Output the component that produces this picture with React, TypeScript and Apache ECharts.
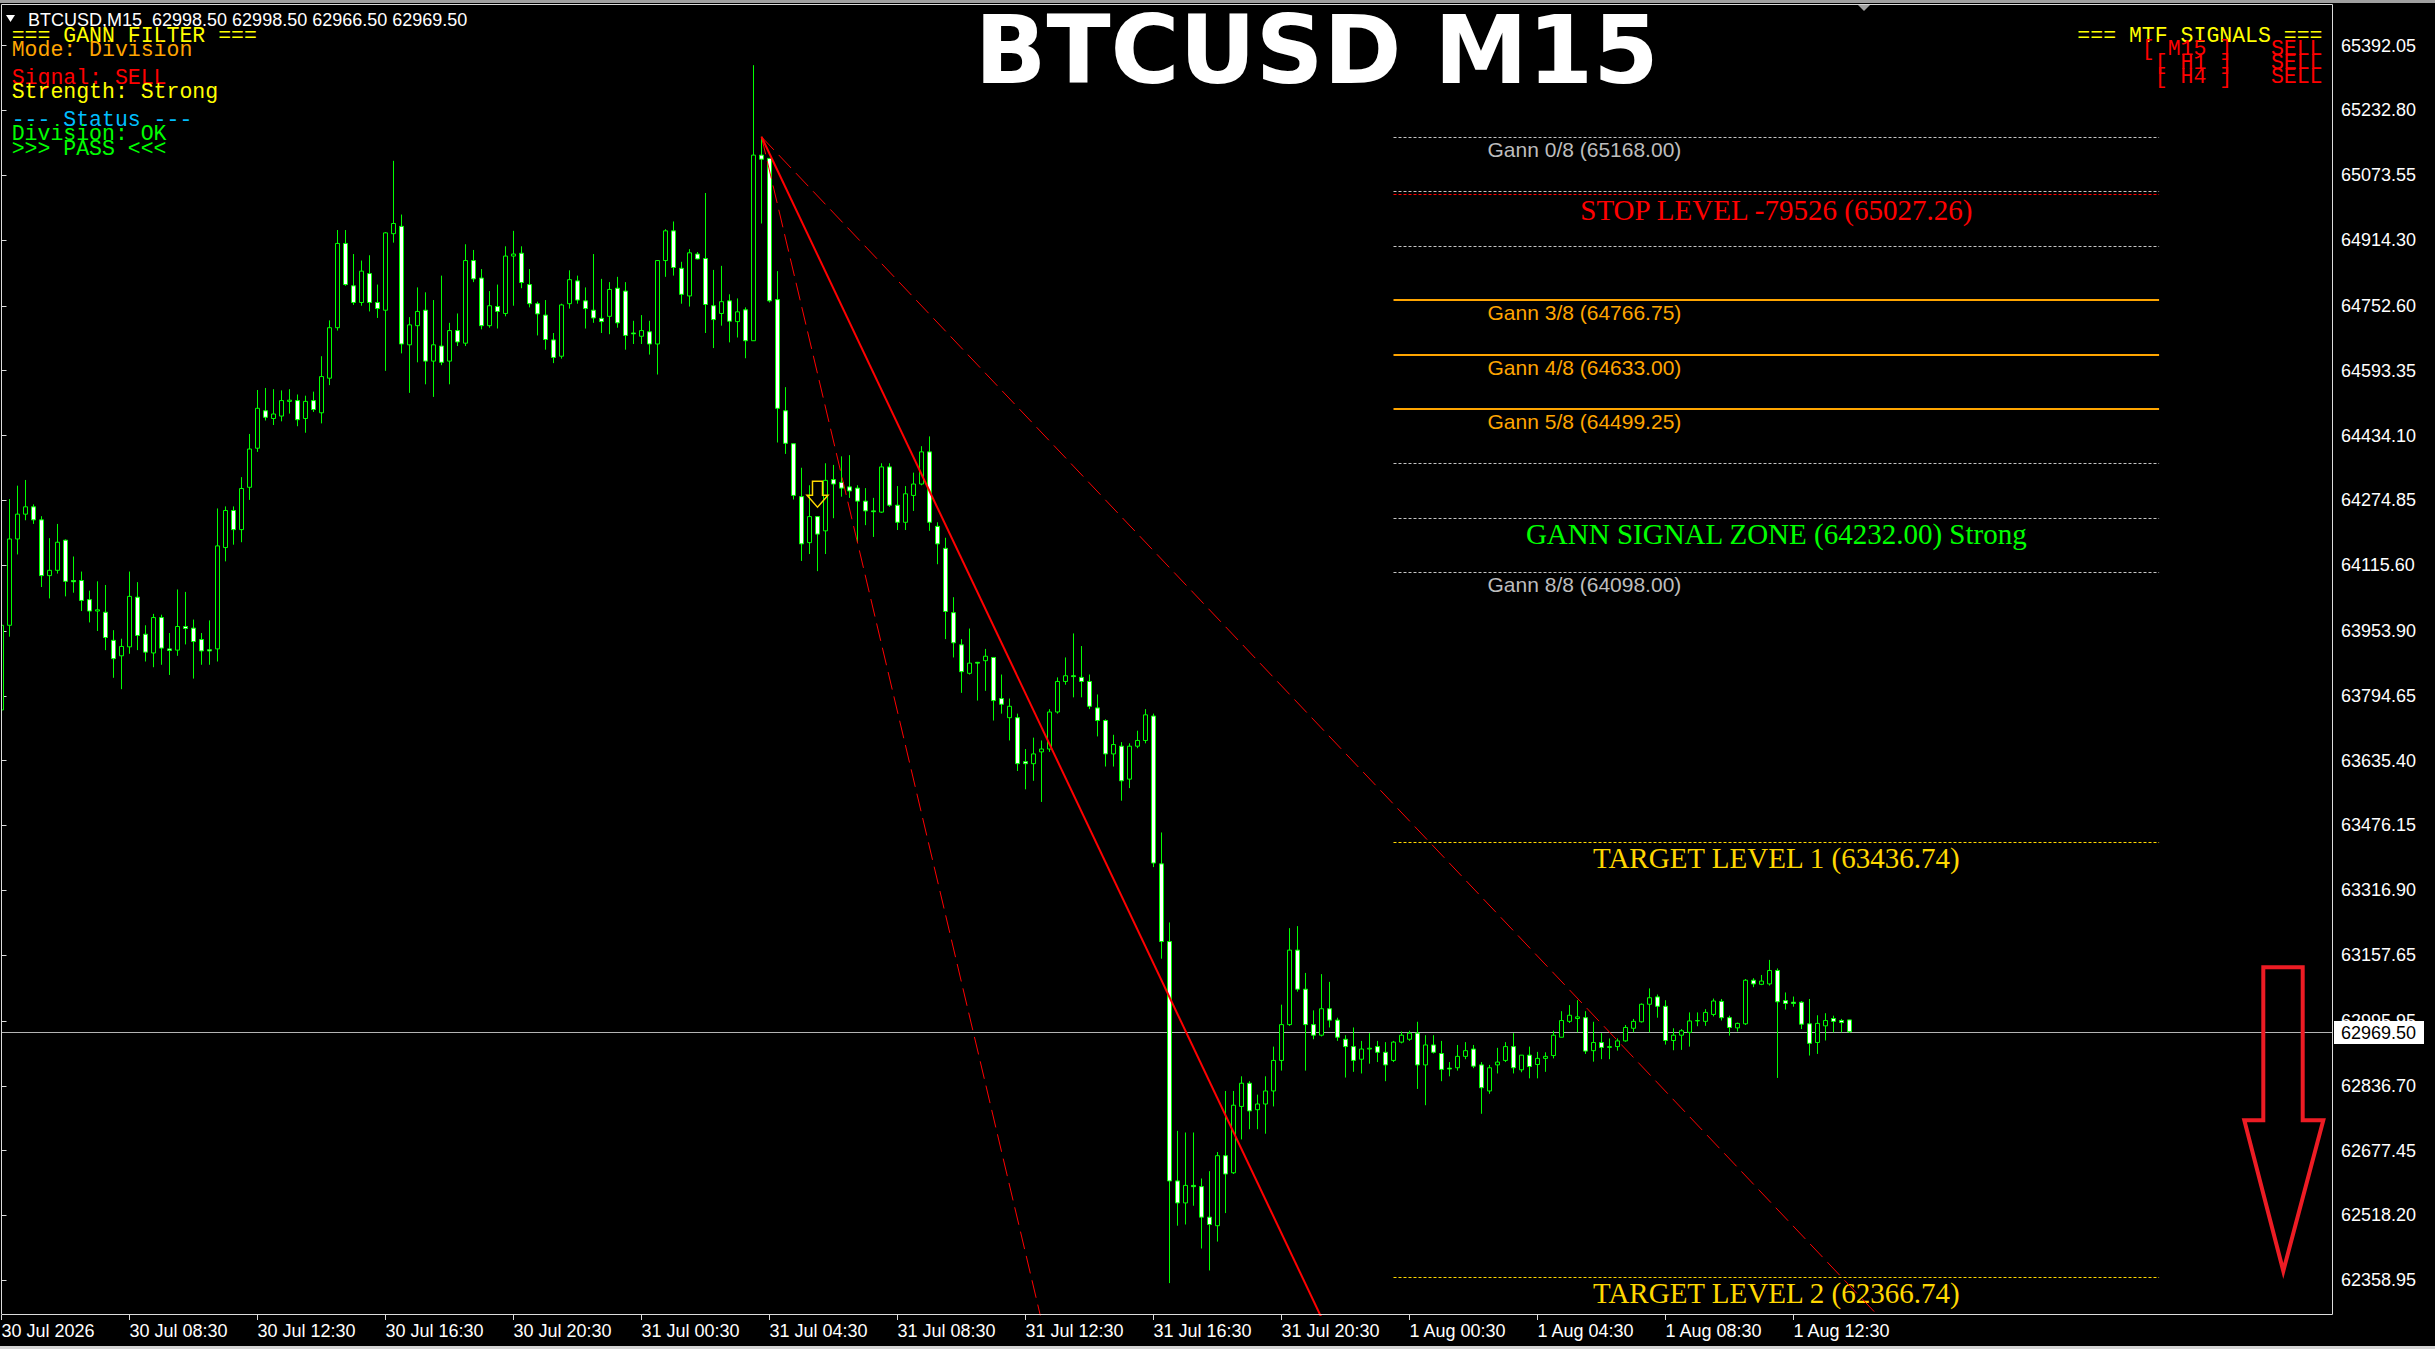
import React, { useEffect, useRef } from "react";
import * as echarts from "echarts";

const SANS = '"Liberation Sans", Arial, sans-serif';
const MONO = '"Liberation Mono", "Courier New", monospace';
const SERIF = '"Liberation Serif", "Times New Roman", serif';
const TITLE_FONT = '"DejaVu Sans", Verdana, sans-serif';

const symbolName = "BTCUSD";
const timeframe = "M15";
// open, high, low, close of the forming bar
const lastQuote = [62998.5, 62998.5, 62966.5, 62969.5];

// M15 bars, oldest first: [open, high, low, close]
const ohlc: number[][] = [
  [63760, 63985, 63730, 63968], [63968, 64278, 63940, 64180], [64180, 64311, 64142, 64241], [64241, 64325, 64226, 64259],
  [64259, 64265, 64217, 64227], [64227, 64236, 64062, 64090], [64090, 64182, 64034, 64103], [64103, 64217, 64095, 64172],
  [64177, 64179, 64039, 64076], [64078, 64137, 64048, 64075], [64078, 64100, 64003, 64029], [64031, 64053, 63975, 64003],
  [64003, 64076, 63954, 64006], [64000, 64067, 63907, 63938], [63931, 63956, 63839, 63886], [63893, 63935, 63811, 63916],
  [63915, 64100, 63898, 64039], [64037, 64074, 63907, 63943], [63946, 63968, 63879, 63902], [63900, 63996, 63865, 63987],
  [63987, 63994, 63871, 63912], [63910, 63949, 63846, 63906], [63907, 64056, 63893, 63965], [63965, 64050, 63921, 63960],
  [63961, 63982, 63837, 63928], [63933, 63949, 63871, 63905], [63908, 63980, 63871, 63905], [63910, 64255, 63879, 64163],
  [64159, 64260, 64125, 64250], [64250, 64260, 64166, 64203], [64203, 64332, 64172, 64304], [64307, 64438, 64276, 64401],
  [64403, 64546, 64394, 64501], [64495, 64551, 64471, 64479], [64476, 64548, 64460, 64487], [64482, 64545, 64469, 64520],
  [64518, 64548, 64488, 64521], [64520, 64535, 64457, 64473], [64476, 64532, 64441, 64518], [64520, 64542, 64492, 64498],
  [64490, 64629, 64464, 64579], [64575, 64717, 64558, 64699], [64699, 64939, 64692, 64906], [64906, 64939, 64802, 64805],
  [64802, 64880, 64755, 64761], [64761, 64864, 64753, 64838], [64832, 64877, 64739, 64761], [64761, 64805, 64723, 64746],
  [64742, 64934, 64593, 64932], [64930, 65109, 64908, 64955], [64948, 64977, 64636, 64659], [64657, 64725, 64539, 64706],
  [64704, 64798, 64614, 64739], [64742, 64786, 64560, 64617], [64617, 64767, 64529, 64657], [64654, 64827, 64607, 64614],
  [64617, 64711, 64560, 64692], [64692, 64734, 64654, 64664], [64661, 64904, 64654, 64864], [64864, 64890, 64811, 64819],
  [64821, 64843, 64695, 64704], [64704, 64789, 64699, 64753], [64751, 64805, 64697, 64739], [64734, 64899, 64727, 64875],
  [64875, 64937, 64753, 64880], [64882, 64899, 64796, 64810], [64805, 64843, 64749, 64758], [64758, 64763, 64680, 64733],
  [64730, 64767, 64645, 64670], [64669, 64686, 64612, 64626], [64629, 64758, 64623, 64755], [64758, 64840, 64746, 64817],
  [64814, 64827, 64758, 64767], [64765, 64798, 64697, 64746], [64742, 64880, 64711, 64723], [64722, 64819, 64686, 64714],
  [64727, 64811, 64683, 64793], [64796, 64824, 64699, 64711], [64789, 64811, 64645, 64680], [64686, 64716, 64659, 64684],
  [64678, 64730, 64659, 64692], [64689, 64716, 64633, 64659], [64659, 64864, 64584, 64864], [64864, 64941, 64824, 64937],
  [64937, 64960, 64827, 64847], [64845, 64861, 64758, 64781], [64777, 64892, 64751, 64883], [64880, 64885, 64867, 64868],
  [64869, 65030, 64686, 64756], [64753, 64841, 64649, 64719], [64734, 64851, 64704, 64763], [64765, 64781, 64663, 64715],
  [64714, 64771, 64675, 64738], [64743, 64749, 64624, 64667], [64667, 65344, 64667, 65123], [65123, 65168, 64955, 65113],
  [65115, 65115, 64761, 64765], [64768, 64838, 64417, 64501], [64495, 64553, 64389, 64415], [64414, 64414, 64277, 64287],
  [64284, 64355, 64126, 64168], [64171, 64312, 64143, 64235], [64235, 64236, 64101, 64192], [64200, 64366, 64143, 64324],
  [64326, 64362, 64231, 64315], [64319, 64383, 64284, 64305], [64308, 64386, 64281, 64298], [64305, 64312, 64171, 64273],
  [64273, 64305, 64214, 64249], [64249, 64281, 64185, 64247], [64246, 64366, 64244, 64357], [64357, 64366, 64259, 64263],
  [64263, 64310, 64202, 64221], [64221, 64310, 64202, 64291], [64287, 64343, 64249, 64315], [64315, 64408, 64312, 64394],
  [64394, 64432, 64200, 64221], [64211, 64221, 64118, 64168], [64157, 64183, 63934, 64002], [63999, 64037, 63889, 63925],
  [63920, 63934, 63802, 63854], [63850, 63960, 63847, 63875], [63877, 63878, 63783, 63875], [63881, 63910, 63807, 63892],
  [63889, 63889, 63734, 63783], [63788, 63847, 63751, 63774], [63741, 63788, 63685, 63769], [63741, 63751, 63610, 63628],
  [63633, 63664, 63565, 63628], [63628, 63692, 63586, 63652], [63657, 63685, 63534, 63664], [63664, 63762, 63657, 63755],
  [63755, 63840, 63751, 63830], [63830, 63889, 63822, 63844], [63844, 63948, 63791, 63842], [63840, 63917, 63791, 63830],
  [63830, 63847, 63762, 63769], [63765, 63798, 63695, 63734], [63734, 63737, 63621, 63652], [63652, 63699, 63621, 63675],
  [63671, 63681, 63537, 63586], [63590, 63678, 63568, 63671], [63671, 63709, 63666, 63685], [63685, 63762, 63678, 63748],
  [63745, 63751, 63374, 63384], [63382, 63459, 63149, 63191], [63191, 63238, 62352, 62603], [62603, 62726, 62493, 62549],
  [62549, 62722, 62496, 62592], [62592, 62722, 62542, 62589], [62589, 62609, 62437, 62514], [62514, 62627, 62383, 62496],
  [62493, 62674, 62454, 62665], [62665, 62824, 62524, 62620], [62623, 62824, 62620, 62789], [62786, 62860, 62705, 62843],
  [62843, 62848, 62730, 62775], [62778, 62815, 62730, 62792], [62792, 62860, 62719, 62824], [62824, 62933, 62786, 62899],
  [62899, 63036, 62874, 62987], [62987, 63224, 62984, 63170], [63170, 63229, 63068, 63074], [63074, 63114, 62874, 62987],
  [62987, 63022, 62951, 62961], [62961, 63111, 62958, 63026], [63026, 63092, 62980, 62998], [62998, 63004, 62947, 62956],
  [62951, 62961, 62857, 62933], [62933, 62980, 62871, 62899], [62902, 62947, 62867, 62927], [62927, 62966, 62891, 62929],
  [62933, 62947, 62895, 62919], [62919, 62944, 62848, 62888], [62899, 62947, 62895, 62944], [62944, 62970, 62941, 62961],
  [62951, 62972, 62947, 62966], [62966, 62994, 62829, 62888], [62888, 62961, 62789, 62937], [62937, 62961, 62916, 62919],
  [62916, 62947, 62848, 62877], [62880, 62895, 62860, 62878], [62881, 62937, 62874, 62909], [62909, 62944, 62902, 62923],
  [62927, 62937, 62880, 62885], [62888, 62895, 62768, 62832], [62824, 62888, 62817, 62881], [62888, 62930, 62867, 62895],
  [62899, 62944, 62895, 62933], [62933, 62966, 62867, 62881], [62876, 62912, 62870, 62912], [62912, 62933, 62855, 62884],
  [62889, 62920, 62855, 62904], [62904, 62919, 62871, 62909], [62911, 62972, 62904, 62961], [62956, 63020, 62956, 62997],
  [62995, 63035, 62991, 63010], [63002, 63047, 62968, 63006], [63004, 63020, 62915, 62922], [62923, 62994, 62896, 62943],
  [62943, 62966, 62902, 62931], [62931, 62953, 62902, 62933], [62933, 62953, 62923, 62947], [62947, 62986, 62945, 62980],
  [62978, 63001, 62968, 62995], [62994, 63039, 62992, 63037], [63037, 63076, 62968, 63053], [63055, 63061, 63004, 63032],
  [63032, 63047, 62938, 62948], [62948, 62978, 62924, 62961], [62961, 62976, 62925, 62972], [62968, 63017, 62933, 62996],
  [62996, 63017, 62983, 62997], [62995, 63025, 62984, 63017], [63012, 63051, 63007, 63045], [63044, 63050, 62997, 63004],
  [63004, 63009, 62960, 62980], [62979, 62992, 62970, 62990], [62989, 63099, 62986, 63096], [63096, 63101, 63079, 63087],
  [63086, 63109, 63084, 63094], [63087, 63146, 63083, 63120], [63120, 63125, 62856, 63043], [63046, 63066, 63024, 63039],
  [63042, 63056, 63031, 63039], [63042, 63045, 62976, 62988], [62989, 63050, 62911, 62941], [62943, 63010, 62915, 62990],
  [62984, 63015, 62948, 62997], [63002, 63009, 62968, 62995], [62997, 63001, 62968, 62992], [62998.5, 62998.5, 62966.5, 62969.5],
];

// time scale labels, one every 16 bars (4 hours)
const xTickBars = [0, 16, 32, 48, 64, 80, 96, 112, 128, 144, 160, 176, 192, 208, 224];
const xTickLabels = [
  "30 Jul 2026", "30 Jul 08:30", "30 Jul 12:30", "30 Jul 16:30", "30 Jul 20:30",
  "31 Jul 00:30", "31 Jul 04:30", "31 Jul 08:30", "31 Jul 12:30", "31 Jul 16:30",
  "31 Jul 20:30", "1 Aug 00:30", "1 Aug 04:30", "1 Aug 08:30", "1 Aug 12:30",
];

// price scale labels
const yTickValues = [
  65392.05, 65232.8, 65073.55, 64914.3, 64752.6, 64593.35, 64434.1, 64274.85, 64115.6, 63953.9,
  63794.65, 63635.4, 63476.15, 63316.9, 63157.65, 62995.95, 62836.7, 62677.45, 62518.2, 62358.95,
];

// Gann octave levels
const gannPrices = [65168.0, 65034.25, 64900.5, 64766.75, 64633.0, 64499.25, 64365.5, 64232.0, 64098.0];
const gannFractions = ["0/8", "1/8", "2/8", "3/8", "4/8", "5/8", "6/8", "7/8", "8/8"];
const gannLabelled = [0, 3, 4, 5, 8];
const gannMajor = [3, 4, 5];
const signalZoneIndex = 7;
const signalStrength = "Strong";
const stopLevel = 65027.26;
const stopPoints = -79526;
const targetLevels = [63436.74, 62366.74];
const levelSpanBars = [174, 269.7];

// Gann fan from the swing high: 2x1, 1x1, 1x2
const fanOrigin = [95, 65168];
const fanEnds = [[130, 62260], [165, 62267], [235, 62263]];

// sell arrow placed by the filter
const entryArrow = [102, 64322];

const filterPanel = [
  "=== GANN FILTER ===", "Mode: Division", "", "Signal: SELL", "Strength: Strong",
  "", "--- Status ---", "Division: OK", ">>> PASS <<<",
];
const filterColors = ["#ffff00", "#ffa500", "", "#ff0000", "#ffff00", "", "#00bfff", "#00ff00", "#00ff00"];
const mtfPanel = ["=== MTF SIGNALS ===", "[ M15 ]   SELL", "[ H1 ]   SELL", "[ H4 ]   SELL"];
const mtfColors = ["#ffff00", "#ff0000", "#ff0000", "#ff0000"];

// chart geometry
const W = 2435;
const H = 1349;
const GRID = { left: 1, top: 4, right: 102, bottom: 34 };
const X_MIN = -0.0625;
const X_MAX = 291.4375;
const Y_MAX = 65494.24;
const Y_MIN = 62273.64;

const LIME = "#00ff00";
const ORANGE = "#ffa500";
const GRAY_DOT = "#c4c4c4";
const GOLD = "#ffd700";

type LevelItem = {
  price: number;
  color: string;
  width: number;
  dash: number[] | null;
  text?: string;
  textColor?: string;
  serif?: boolean;
};

function buildLevels(): LevelItem[] {
  const items: LevelItem[] = [];
  gannPrices.forEach((p, i) => {
    const major = gannMajor.includes(i);
    const item: LevelItem = {
      price: p,
      color: major ? ORANGE : GRAY_DOT,
      width: major ? 2 : 1,
      dash: major ? null : [3, 2],
    };
    if (gannLabelled.includes(i)) {
      item.text = `Gann ${gannFractions[i]} (${p.toFixed(2)})`;
      item.textColor = major ? ORANGE : "#bdbdbd";
    }
    if (i === signalZoneIndex) {
      item.text = `GANN SIGNAL ZONE (${p.toFixed(2)}) ${signalStrength}`;
      item.textColor = LIME;
      item.serif = true;
    }
    items.push(item);
  });
  items.push({
    price: stopLevel,
    color: "#ff0000",
    width: 1,
    dash: [3, 2],
    text: `STOP LEVEL ${stopPoints} (${stopLevel.toFixed(2)})`,
    textColor: "#ff0000",
    serif: true,
  });
  targetLevels.forEach((p, i) => {
    items.push({
      price: p,
      color: GOLD,
      width: 1,
      dash: [3, 2],
      text: `TARGET LEVEL ${i + 1} (${p.toFixed(2)})`,
      textColor: GOLD,
      serif: true,
    });
  });
  return items;
}

function buildOption() {
  const levels = buildLevels();
  const candleData = ohlc.map((r, i) => [i, r[0], r[1], r[2], r[3]]);

  const renderCandle = (_params: any, api: any) => {
    const i = api.value(0);
    const o = api.value(1);
    const h = api.value(2);
    const l = api.value(3);
    const c = api.value(4);
    const pO = api.coord([i, o]);
    const pC = api.coord([i, c]);
    const pH = api.coord([i, h]);
    const pL = api.coord([i, l]);
    const x = pO[0];
    const top = Math.min(pO[1], pC[1]);
    const bottom = Math.max(pO[1], pC[1]);
    const bull = c >= o;
    return {
      type: "group",
      children: [
        {
          type: "line",
          shape: { x1: x, y1: pH[1], x2: x, y2: pL[1] },
          style: { stroke: LIME, lineWidth: 1 },
        },
        {
          type: "rect",
          shape: { x: x - 2, y: top, width: 4, height: Math.max(bottom - top, 0) },
          style: { fill: bull ? "#000000" : "#ffffff", stroke: LIME, lineWidth: 1 },
        },
      ],
    };
  };

  const renderLevel = (params: any, api: any) => {
    const item = levels[params.dataIndex];
    const a = api.coord([levelSpanBars[0], item.price]);
    const b = api.coord([levelSpanBars[1], item.price]);
    const y = item.width === 1 ? Math.round(a[1]) + 0.5 : Math.round(a[1]);
    const children: any[] = [
      {
        type: "line",
        shape: { x1: a[0], y1: y, x2: b[0], y2: y },
        style: { stroke: item.color, lineWidth: item.width, lineDash: item.dash || undefined },
      },
    ];
    if (item.text) {
      if (item.serif) {
        children.push({
          type: "text",
          x: (a[0] + b[0]) / 2,
          y: y + 15,
          style: {
            text: item.text,
            fill: item.textColor,
            fontSize: 29,
            fontFamily: SERIF,
            align: "center",
            verticalAlign: "middle",
          },
        });
      } else {
        children.push({
          type: "text",
          x: a[0] + 94,
          y: y + 12,
          style: {
            text: item.text,
            fill: item.textColor,
            fontSize: 21,
            fontFamily: SANS,
            align: "left",
            verticalAlign: "middle",
          },
        });
      }
    }
    return { type: "group", children };
  };

  const renderPriceLine = (_params: any, api: any) => {
    const p = api.value(1);
    const a = api.coord([X_MIN, p]);
    const b = api.coord([X_MAX, p]);
    const y = Math.round(a[1]) + 0.5;
    return {
      type: "group",
      children: [
        { type: "line", shape: { x1: a[0], y1: y, x2: b[0], y2: y }, style: { stroke: "#b4b4b4", lineWidth: 1 } },
        { type: "rect", shape: { x: b[0] + 1, y: y - 11.5, width: 90, height: 23 }, style: { fill: "#ffffff" } },
        {
          type: "text",
          x: b[0] + 8,
          y: y + 0.5,
          style: { text: p.toFixed(2), fill: "#000000", fontSize: 18, fontFamily: SANS, align: "left", verticalAlign: "middle" },
        },
      ],
    };
  };

  const renderArrow = (_params: any, api: any) => {
    const p = api.coord([api.value(0), api.value(1)]);
    const pts = [[-5, 0], [5, 0], [5, 14], [10.5, 14], [0, 26], [-10.5, 14], [-5, 14]].map((q) => [p[0] + q[0], p[1] + q[1]]);
    return {
      type: "polygon",
      shape: { points: pts },
      style: { fill: "none", stroke: GOLD, lineWidth: 1.5 },
    };
  };

  const fanStyles = [
    { width: 1, type: [18, 7] },
    { width: 2, type: "solid" },
    { width: 1, type: [18, 7] },
  ];

  const fanSeries = fanEnds.map((end, i) => ({
    type: "line",
    data: [fanOrigin, end],
    symbol: "none",
    showSymbol: false,
    clip: true,
    silent: true,
    z: 5,
    lineStyle: { color: "#ff0000", width: fanStyles[i].width, type: fanStyles[i].type },
  }));

  const headerText = `${symbolName},${timeframe}  ${lastQuote.map((v) => v.toFixed(2)).join(" ")}`;

  const graphic: any[] = [
    { type: "rect", shape: { x: 0, y: 0, width: W, height: 3 }, style: { fill: "#a0a0a0" }, silent: true },
    { type: "rect", shape: { x: 0, y: H - 3, width: W, height: 3 }, style: { fill: "#d4d4d4" }, silent: true },
    {
      type: "rect",
      shape: { x: 1.5, y: 4.5, width: 2331, height: 1310 },
      style: { fill: "none", stroke: "#dcdcdc", lineWidth: 1 },
      silent: true,
      z: 10,
    },
    { type: "polygon", shape: { points: [[6, 15], [15, 15], [10.5, 22]] }, style: { fill: "#ffffff" }, silent: true },
    {
      type: "text",
      x: 28,
      y: 19.5,
      style: { text: headerText, fill: "#ffffff", fontSize: 18, fontFamily: SANS, align: "left", verticalAlign: "middle" },
      silent: true,
    },
    {
      type: "text",
      x: 1316.7,
      y: 50,
      style: {
        text: `${symbolName} ${timeframe}`,
        fill: "#ffffff",
        fontSize: 94,
        fontWeight: "bold",
        fontFamily: TITLE_FONT,
        align: "center",
        verticalAlign: "middle",
      },
      silent: true,
    },
    { type: "polygon", shape: { points: [[1857, 4], [1871, 4], [1864, 11]] }, style: { fill: "#a0a0a0" }, silent: true },
    {
      type: "polygon",
      shape: {
        points: [
          [2263.3, 967.2], [2302.7, 967.2], [2302.7, 1120.3], [2323.3, 1120.3],
          [2283.3, 1271], [2244.3, 1120.3], [2263.3, 1120.3],
        ],
      },
      style: { fill: "none", stroke: "#ed1c24", lineWidth: 4, lineJoin: "miter" },
      silent: true,
      z: 10,
    },
  ];

  filterPanel.forEach((t, i) => {
    if (!t) return;
    graphic.push({
      type: "text",
      x: 11.7,
      y: 35.7 + 14.1 * i,
      style: { text: t, fill: filterColors[i], fontSize: 21.5, fontFamily: MONO, align: "left", verticalAlign: "middle" },
      silent: true,
      z: 11,
    });
  });
  mtfPanel.forEach((t, i) => {
    graphic.push({
      type: "text",
      x: 2322.5,
      y: 35.5 + 13.9 * i,
      style: { text: t, fill: mtfColors[i], fontSize: 21.5, fontFamily: MONO, align: "right", verticalAlign: "middle" },
      silent: true,
      z: 11,
    });
  });

  return {
    animation: false,
    backgroundColor: "#000000",
    grid: { ...GRID, show: false, containLabel: false, outerBoundsMode: "none" },
    xAxis: {
      type: "value",
      min: X_MIN,
      max: X_MAX,
      axisLine: { show: false },
      splitLine: { show: false },
      axisTick: { show: true, customValues: xTickBars, length: 5, lineStyle: { color: "#dcdcdc", width: 1 } },
      axisLabel: {
        show: true,
        customValues: xTickBars,
        formatter: (v: number) => {
          const i = xTickBars.indexOf(Math.round(v));
          return i >= 0 ? xTickLabels[i] : "";
        },
        align: "left",
        color: "#ffffff",
        fontFamily: SANS,
        fontSize: 18,
        margin: 7,
      },
    },
    yAxis: {
      type: "value",
      position: "right",
      min: Y_MIN,
      max: Y_MAX,
      scale: true,
      axisLine: { show: false },
      splitLine: { show: false },
      axisTick: { show: true, customValues: yTickValues, length: 5, lineStyle: { color: "#dcdcdc", width: 1 } },
      axisLabel: {
        show: true,
        customValues: yTickValues,
        formatter: (v: number) => v.toFixed(2),
        color: "#ffffff",
        fontFamily: SANS,
        fontSize: 18,
        margin: 8,
        align: "left",
      },
    },
    graphic,
    series: [
      {
        type: "custom",
        name: "levels",
        renderItem: renderLevel,
        data: levels.map((l) => [levelSpanBars[0], l.price]),
        encode: { x: 0, y: 1 },
        clip: false,
        silent: true,
        z: 2,
      },
      {
        type: "custom",
        name: "price",
        renderItem: renderPriceLine,
        data: [[X_MAX, lastQuote[3]]],
        encode: { x: 0, y: 1 },
        clip: false,
        silent: true,
        z: 3,
      },
      {
        type: "custom",
        name: "candles",
        renderItem: renderCandle,
        data: candleData,
        encode: { x: 0, y: [1, 2, 3, 4] },
        clip: true,
        silent: true,
        z: 4,
      },
      ...fanSeries,
      {
        type: "custom",
        name: "signal",
        renderItem: renderArrow,
        data: [entryArrow],
        encode: { x: 0, y: 1 },
        clip: true,
        silent: true,
        z: 6,
      },
    ],
  };
}

export default function App() {
  const ref = useRef<HTMLDivElement>(null);
  useEffect(() => {
    if (!ref.current) return;
    const chart = echarts.init(ref.current, null, { renderer: "svg" });
    chart.setOption(buildOption() as any);
    return () => chart.dispose();
  }, []);
  return (
    <div
      ref={ref}
      style={{ position: "fixed", left: 0, top: 0, width: W, height: H, background: "#000000" }}
    />
  );
}
